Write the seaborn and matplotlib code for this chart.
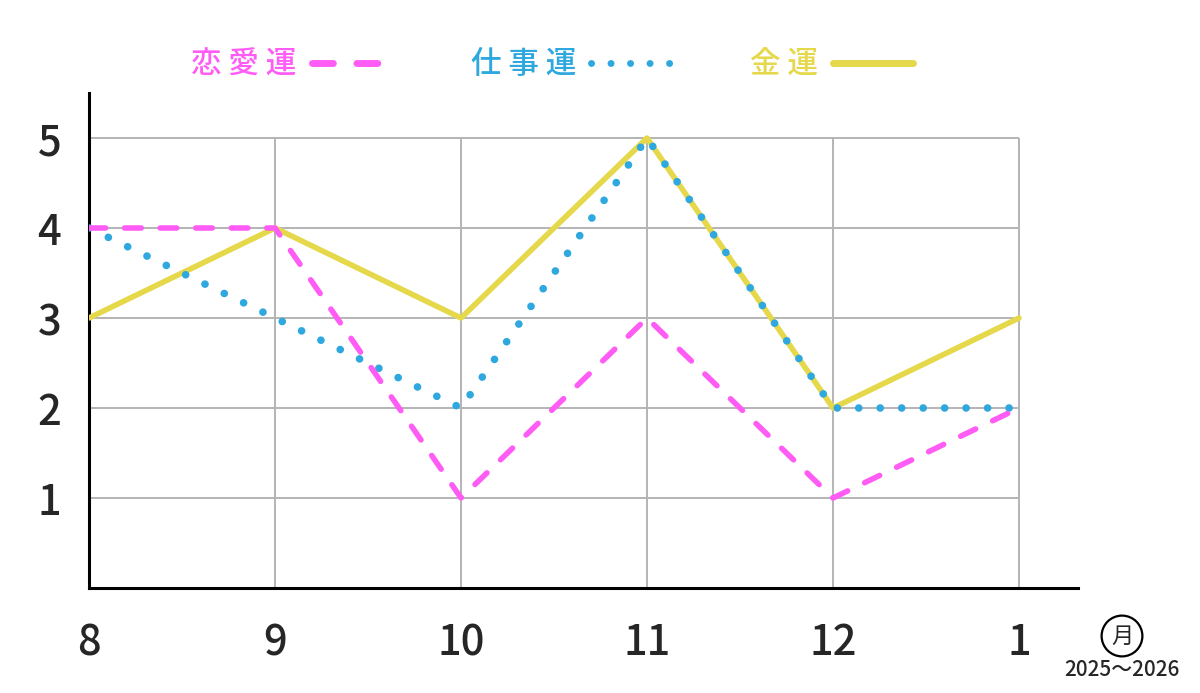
import numpy as np
import matplotlib
matplotlib.use('Agg')
import matplotlib.pyplot as plt
import seaborn as sns

# data
months = ['8', '9', '10', '11', '12', '1']
love = [4, 4, 1, 3, 1, 2]      # 恋愛運
work = [4, 3, 2, 5, 2, 2]      # 仕事運
money = [3, 4, 3, 5, 2, 3]     # 金運
y_ticks = [1, 2, 3, 4, 5]

PINK = '#ff5cf6'
BLUE = '#2ea8df'
YELLOW = '#e5d84a'

sns.set_theme(style='white')
plt.rcParams['font.family'] = ['Noto Sans CJK JP', 'DejaVu Sans']

fig = plt.figure(figsize=(12, 6.93), dpi=100)
ax = fig.add_axes([89 / 1200, 1 - 588 / 693, (1078 - 89) / 1200, (588 - 93) / 693])

xs = np.arange(len(months))

# grid only inside the data range
ax.hlines(y_ticks, xs[0], xs[-1], color='#b4b4b4', lw=1.4, zorder=1)
ax.vlines(xs[1:], 0, max(y_ticks), color='#b4b4b4', lw=1.4, zorder=1)

sns.lineplot(x=xs, y=money, ax=ax, color=YELLOW, lw=4, label='金 運',
             solid_capstyle='round', zorder=3)
l_work = sns.lineplot(x=xs, y=work, ax=ax, color=BLUE, lw=5.5, label='仕 事 運',
                      zorder=4).lines[-1]
l_work.set_dashes((0.01, 2.8))
l_work.set_dash_capstyle('round')
l_love = sns.lineplot(x=xs, y=love, ax=ax, color=PINK, lw=4, label='恋 愛 運',
                      zorder=5).lines[-1]
l_love.set_dashes((3.0, 3.4))
l_love.set_dash_capstyle('round')

ax.set_xlim(0, (1078 - 89) / 186)
ax.set_ylim(0, 5.5)
ax.set_xticks(xs)
ax.set_xticklabels(months, fontweight='medium')
ax.set_yticks(y_ticks)
ax.set_yticklabels(y_ticks, fontweight='medium')
ax.tick_params(axis='x', length=0, pad=24, labelsize=30)
ax.tick_params(axis='y', length=0, pad=20, labelsize=30)
for sp in ['top', 'right']:
    ax.spines[sp].set_visible(False)
for sp in ['left', 'bottom']:
    ax.spines[sp].set_color('black')
    ax.spines[sp].set_linewidth(2.2)

# legend: text first, then the line sample
handles, labels = ax.get_legend_handles_labels()
order = [2, 1, 0]
ax.get_legend().remove()
leg = fig.legend([handles[i] for i in order], [labels[i] for i in order],
                 loc='center', bbox_to_anchor=(0.46, 1 - 65 / 693), ncol=3,
                 frameon=False, markerfirst=False, fontsize=22,
                 handlelength=2.6, handletextpad=0.5, columnspacing=2.6)
for txt, col in zip(leg.get_texts(), [PINK, BLUE, YELLOW]):
    txt.set_color(col)
    txt.set_fontweight('medium')
for h in leg.legend_handles:
    h.set_linewidth(5)

fig.text(1122 / 1200, 1 - 636 / 693, '月', ha='center', va='center', fontsize=16,
         bbox=dict(boxstyle='circle,pad=0.4', fc='white', ec='black', lw=1.6))
fig.text(1122 / 1200, 1 - 670 / 693, '2025～2026', ha='center', va='center',
         fontsize=15, fontweight='medium')

fig.savefig('out.png', dpi=100)
